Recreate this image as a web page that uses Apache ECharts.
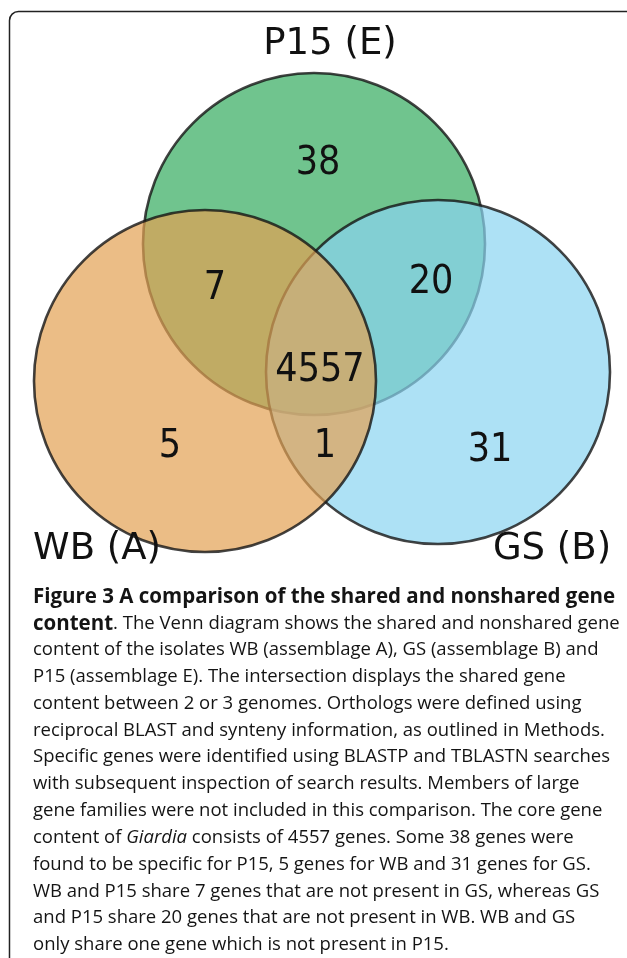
<!DOCTYPE html>
<html>
<head>
<meta charset="utf-8">
<script src="https://cdn.jsdelivr.net/npm/echarts@6/dist/echarts.min.js"></script>
<style>
  html, body { margin: 0; padding: 0; background: #ffffff; }
  #chart { width: 627px; height: 958px; }
</style>
</head>
<body>
<div id="chart"></div>
<script>
// ---- data ----
const setNames = ['P15 (E)', 'GS (B)', 'WB (A)'];
const regionNames = ['P15 only', 'WB∩P15', 'GS∩P15', 'WB∩GS∩P15', 'WB only', 'WB∩GS', 'GS only'];
const regionCounts = [38, 7, 20, 4557, 5, 1, 31];
const captionLines = [
  '{b|Figure 3 A comparison of the shared and nonshared gene}',
  '{b|content}{r|. The Venn diagram shows the shared and nonshared gene}',
  '{r|content of the isolates WB (assemblage A), GS (assemblage B) and}',
  '{r|P15 (assemblage E). The intersection displays the shared gene}',
  '{r|content between 2 or 3 genomes. Orthologs were defined using}',
  '{r|reciprocal BLAST and synteny information, as outlined in Methods.}',
  '{r|Specific genes were identified using BLASTP and TBLASTN searches}',
  '{r|with subsequent inspection of search results. Members of large}',
  '{r|gene families were not included in this comparison. The core gene}',
  '{r|content of }{i|Giardia}{r| consists of 4557 genes. Some 38 genes were}',
  '{r|found to be specific for P15, 5 genes for WB and 31 genes for GS.}',
  '{r|WB and P15 share 7 genes that are not present in GS, whereas GS}',
  '{r|and P15 share 20 genes that are not present in WB. WB and GS}',
  '{r|only share one gene which is not present in P15.}'
];

// ---- layout (pixel space of the hidden axes) ----
const circleLayout = [
  { cx: 314, cy: 244, r: 171 },   // P15 (E)
  { cx: 438, cy: 372, r: 172 },   // GS (B)
  { cx: 205, cy: 381, r: 171 }    // WB (A)
];
const setLabelLayout = [ [330, 44], [552, 549], [97, 549] ];
const regionLabelLayout = [
  [318, 164], [215, 289], [431, 283], [320, 371], [170, 447], [325, 447], [490, 451]
];
const circleFills = ['rgba(112,196,142,1)', 'rgba(138,212,241,0.7)', 'rgba(226,161,82,0.7)'];
const strokeColor = 'rgba(20,20,20,0.8)';

const chart = echarts.init(document.getElementById('chart'), null, { renderer: 'canvas' });

const circleData = circleLayout.map((c, i) => ({ name: setNames[i], value: [c.cx, c.cy, c.r, i] }));
const setLabelData = setNames.map((n, i) => ({ name: n, value: [setLabelLayout[i][0], setLabelLayout[i][1]] }));
const regionData = regionCounts.map((v, i) => ({ name: regionNames[i], value: [regionLabelLayout[i][0], regionLabelLayout[i][1], v] }));

const captionTop = 599.5;
const captionStep = 26.85;
const captionGraphics = captionLines.map((t, i) => ({
  type: 'text',
  left: 33,
  top: captionTop + i * captionStep - 13,
  style: {
    text: t,
    fill: '#1a1a1a',
    rich: {
      b: { fontFamily: 'Open Sans', fontWeight: 'bold', fontSize: 20.5, fill: '#141414', lineHeight: 26 },
      r: { fontFamily: 'Open Sans', fontWeight: 'normal', fontSize: 18.5, fill: '#141414', lineHeight: 26 },
      i: { fontFamily: 'Open Sans', fontStyle: 'italic', fontSize: 18.5, fill: '#141414', lineHeight: 26 }
    }
  }
}));

chart.setOption({
  animation: false,
  backgroundColor: '#ffffff',
  grid: { left: 0, right: 0, top: 0, bottom: 0 },
  xAxis: { type: 'value', min: 0, max: 627, show: false },
  yAxis: { type: 'value', min: 0, max: 958, inverse: true, show: false },
  graphic: [
    {
      type: 'rect',
      shape: { x: 9.5, y: 11.5, width: 650, height: 965, r: 9 },
      style: { fill: 'none', stroke: '#222', lineWidth: 1.5 },
      z: 100
    }
  ].concat(captionGraphics),
  series: [
    {
      type: 'custom',
      name: 'circles',
      data: circleData,
      renderItem: function (params, api) {
        const c = api.coord([api.value(0), api.value(1)]);
        const rr = api.size([api.value(2), api.value(2)])[0];
        const idx = api.value(3);
        return {
          type: 'circle',
          shape: { cx: c[0], cy: c[1], r: rr },
          style: { fill: circleFills[idx], stroke: strokeColor, lineWidth: 2.6 }
        };
      },
      z: 1
    },
    {
      type: 'custom',
      name: 'setLabels',
      data: setLabelData,
      renderItem: function (params, api) {
        const c = api.coord([api.value(0), api.value(1)]);
        return {
          type: 'text',
          x: c[0], y: c[1],
          style: {
            text: setNames[params.dataIndex],
            fontFamily: 'DejaVu Sans', fontSize: 37, fill: '#111',
            align: 'center', verticalAlign: 'middle'
          }
        };
      },
      z: 3
    },
    {
      type: 'custom',
      name: 'regionLabels',
      data: regionData,
      renderItem: function (params, api) {
        const c = api.coord([api.value(0), api.value(1)]);
        return {
          type: 'text',
          x: c[0], y: c[1],
          style: {
            text: String(api.value(2)),
            fontFamily: '"DejaVu Sans Condensed", "DejaVu Sans"', fontSize: 39, fill: '#111',
            align: 'center', verticalAlign: 'middle'
          }
        };
      },
      z: 3
    }
  ]
});
</script>
</body>
</html>
